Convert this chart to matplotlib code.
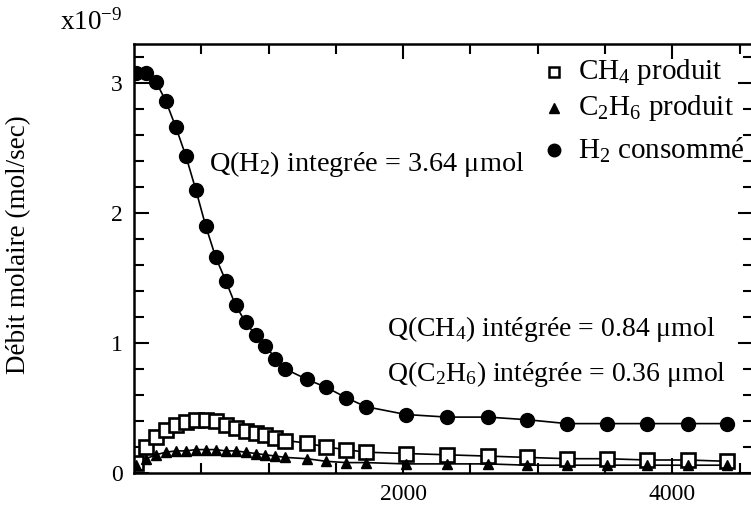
import numpy as np
import matplotlib
matplotlib.use("Agg")
import matplotlib.pyplot as plt

plt.rcParams['font.family'] = ['Liberation Serif', 'DejaVu Serif']
plt.rcParams['mathtext.default'] = 'regular'

# temps (s) des prélèvements
temps = [15, 89, 163, 237, 311, 385, 459, 533, 607, 681, 755, 829, 903, 977, 1051, 1125,
         1285, 1427, 1575, 1724, 2021, 2326, 2630, 2920, 3217, 3514, 3812, 4116, 4406]

# débits molaires (x1e-9 mol/s)
h2_consomme = [3.08, 3.08, 3.01, 2.86, 2.66, 2.44, 2.18, 1.90, 1.66, 1.48, 1.29, 1.16, 1.06, 0.98,
               0.88, 0.80, 0.72, 0.66, 0.58, 0.51, 0.45, 0.43, 0.43, 0.41, 0.38, 0.38, 0.38, 0.38, 0.38]
ch4_produit = [0.08, 0.20, 0.28, 0.33, 0.37, 0.39, 0.41, 0.41, 0.40, 0.37, 0.35, 0.32, 0.31, 0.29,
               0.27, 0.25, 0.23, 0.20, 0.18, 0.16, 0.15, 0.14, 0.13, 0.12, 0.11, 0.11, 0.10, 0.10, 0.09]
c2h6_produit = [0.06, 0.11, 0.14, 0.16, 0.17, 0.17, 0.18, 0.18, 0.18, 0.17, 0.17, 0.16, 0.15, 0.14,
                0.13, 0.12, 0.11, 0.09, 0.08, 0.08, 0.07, 0.07, 0.07, 0.06, 0.06, 0.06, 0.06, 0.06, 0.06]

noms = ['CH$_4$ produit', 'C$_2$H$_6$ produit', 'H$_2$ consommé']

fig = plt.figure(figsize=(7.51, 5.19), dpi=100)
ax = fig.add_axes([134/751, 46/519, 619/751, 429/519])

# courbes
ax.plot(temps, c2h6_produit, '-', color='black', lw=1.2)
ax.plot(temps, ch4_produit, '-', color='black', lw=1.2)
ax.plot(temps, h2_consomme, '-', color='black', lw=1.2)
ax.plot(temps, ch4_produit, 's', ls='none', mfc='white', mec='black', mew=1.9, ms=10)
ax.plot(temps, c2h6_produit, '^', ls='none', color='black', ms=7.5)
ax.plot(temps, h2_consomme, 'o', ls='none', color='black', ms=10)

ax.set_xlim(0, 4600)
ax.set_ylim(0, 3.3)
ax.set_xticks([2000, 4000])
ax.set_xticks(np.arange(500, 4600, 500), minor=True)
ax.set_yticks([0, 1, 2, 3])
ax.set_yticks(np.arange(0.2, 3.3, 0.2), minor=True)
ax.tick_params(which='both', direction='in', top=True, right=True, width=1.5,
               labelsize=17, pad=8)
ax.tick_params(which='major', length=11)
ax.tick_params(which='minor', length=7)
for s in ax.spines.values():
    s.set_linewidth(1.8)

fig.text(19/751, 1 - 245/519, 'Débit molaire (mol/sec)', fontsize=19.5,
         rotation=90, ha='center', va='center')
fig.text(60/751, 1 - 22/519, 'x10$^{-9}$', fontsize=19.5, va='center', ha='left')

# quantités intégrées
ax.text(555, 2.38, 'Q(H$_2$) integrée = 3.64 μmol', fontsize=20.3, va='center')
ax.text(1880, 1.11, 'Q(CH$_4$) intégrée = 0.84 μmol', fontsize=20, va='center')
ax.text(1880, 0.76, 'Q(C$_2$H$_6$) intégrée = 0.36 μmol', fontsize=20, va='center')

# légende
leg_y = [(473 - 72) / 429, (473 - 108) / 429, (473 - 150) / 429]
ax.plot(0.6785, leg_y[0], 's', transform=ax.transAxes, clip_on=False,
        mfc='white', mec='black', mew=1.8, ms=7)
ax.plot(0.6785, leg_y[1], '^', transform=ax.transAxes, clip_on=False,
        color='black', ms=7)
ax.plot(0.6785, leg_y[2], 'o', transform=ax.transAxes, clip_on=False,
        color='black', ms=9)
for y, nom in zip(leg_y, noms):
    ax.text(0.7175, y, nom, transform=ax.transAxes, fontsize=21, va='center',
            ha='left', clip_on=False)

fig.savefig('out.png', dpi=100)
